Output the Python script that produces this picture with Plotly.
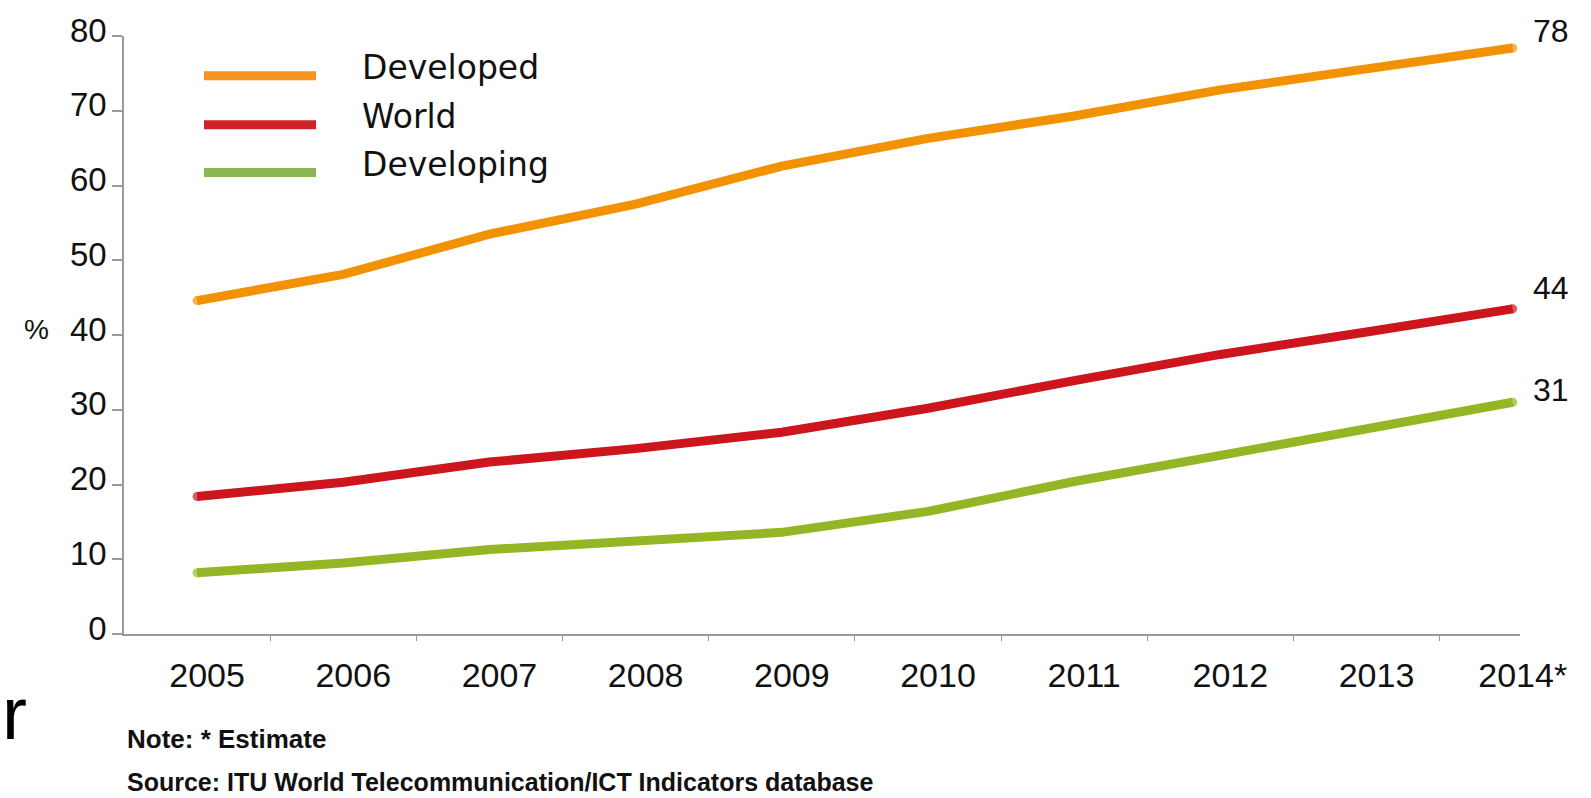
import plotly.graph_objects as go

# Households with Internet access, %
years = ["2005", "2006", "2007", "2008", "2009", "2010", "2011", "2012", "2013", "2014*"]
developed = [44.6, 48.1, 53.5, 57.5, 62.6, 66.3, 69.3, 72.8, 75.6, 78.4]
world = [18.4, 20.3, 23.0, 24.8, 27.0, 30.2, 33.9, 37.4, 40.4, 43.5]
developing = [8.2, 9.5, 11.3, 12.3, 13.6, 16.4, 20.4, 23.9, 27.5, 31.0]

series_names = ["Developed", "World", "Developing"]
series_values = [developed, world, developing]
line_colors = ["#F39200", "#CC151C", "#95B624"]
legend_colors = ["#F7941D", "#D1222A", "#8AB752"]
end_label_yshift = [17, 21, 12]

y_ticks = [0, 10, 20, 30, 40, 50, 60, 70, 80]

W, H = 1591, 798
ML, MR, MT, MB = 124, 71, 34, 164
PW, PH = W - ML - MR, H - MT - MB

AXIS = "#9A9A9A"
TXT = "#111111"
SANS = "Arial, Liberation Sans"


def px(xp):
    return (xp - ML) / PW


def py(yp):
    return (H - MB - yp) / PH


x_idx = list(range(len(years)))

fig = go.Figure()
for name, vals, col, ys in zip(series_names, series_values, line_colors, end_label_yshift):
    sizes = [9 if i in (0, len(vals) - 1) else 0 for i in range(len(vals))]
    fig.add_trace(go.Scatter(
        x=x_idx, y=vals, name=name, mode="lines+markers",
        line=dict(color=col, width=9),
        marker=dict(size=sizes, color=col, line=dict(width=0)),
        showlegend=False, hoverinfo="skip", cliponaxis=False,
    ))
    fig.add_annotation(
        x=x_idx[-1], y=vals[-1], xref="x", yref="y",
        text=f"{round(vals[-1])}", showarrow=False,
        xanchor="left", yanchor="middle", xshift=18, yshift=ys,
        font=dict(family=SANS, size=32, color=TXT),
    )

# hand-drawn legend block
legend_rows = [74, 123, 171]
for name, col, yrow in zip(series_names, legend_colors, legend_rows):
    fig.add_shape(type="line", xref="paper", yref="paper",
                  x0=px(204), x1=px(316), y0=py(yrow), y1=py(yrow),
                  line=dict(color=col, width=9))
    fig.add_annotation(x=px(360), y=py(yrow - 8), xref="paper", yref="paper",
                       text=name, showarrow=False, xanchor="left", yanchor="middle",
                       font=dict(family="DejaVu Sans", size=33, color=TXT))

# y axis stub below the baseline
fig.add_shape(type="line", xref="x", yref="y", ysizemode="pixel", yanchor=0,
              x0=-0.5, x1=-0.5, y0=0, y1=-11, line=dict(color=AXIS, width=1.6))

fig.add_annotation(x=px(36), y=py(328), xref="paper", yref="paper", text="%",
                   showarrow=False, xanchor="center", yanchor="middle",
                   font=dict(family=SANS, size=28, color=TXT))

fig.add_annotation(x=px(125), y=py(739), xref="paper", yref="paper",
                   text="Note: * Estimate", showarrow=False,
                   xanchor="left", yanchor="middle",
                   font=dict(family=SANS, size=26, color=TXT, weight="bold"))
fig.add_annotation(x=px(125), y=py(782), xref="paper", yref="paper",
                   text="Source: ITU World Telecommunication/ICT Indicators database",
                   showarrow=False, xanchor="left", yanchor="middle",
                   font=dict(family=SANS, size=25, color=TXT, weight="bold"))

fig.add_annotation(x=px(0), y=py(713), xref="paper", yref="paper", text="r",
                   showarrow=False, xanchor="left", yanchor="middle",
                   font=dict(family=SANS, size=75, color="#000000"))

fig.update_xaxes(
    range=[-0.5, 9.05], tickvals=x_idx, ticktext=years,
    ticks="", showline=True, linecolor=AXIS, linewidth=1.6,
    showgrid=False, zeroline=False, ticklabelshift=10, ticklabelstandoff=10,
    tickfont=dict(family=SANS, size=34, color=TXT),
    minor=dict(tickvals=[i + 0.5 for i in range(len(years) - 1)], ticks="outside",
               ticklen=5, tickcolor=AXIS, tickwidth=1.2, showgrid=False),
)
fig.update_yaxes(
    range=[0, 80], tickvals=y_ticks, ticks="outside", ticklen=10,
    tickcolor=AXIS, tickwidth=1.6, showline=True, linecolor=AXIS, linewidth=1.6,
    showgrid=False, zeroline=False, ticklabelstandoff=-1, ticklabelshift=-6,
    tickfont=dict(family=SANS, size=33, color=TXT),
)

fig.update_layout(
    width=W, height=H, margin=dict(l=ML, r=MR, t=MT, b=MB),
    paper_bgcolor="white", plot_bgcolor="white", showlegend=False,
)

fig.write_html("out.html")
